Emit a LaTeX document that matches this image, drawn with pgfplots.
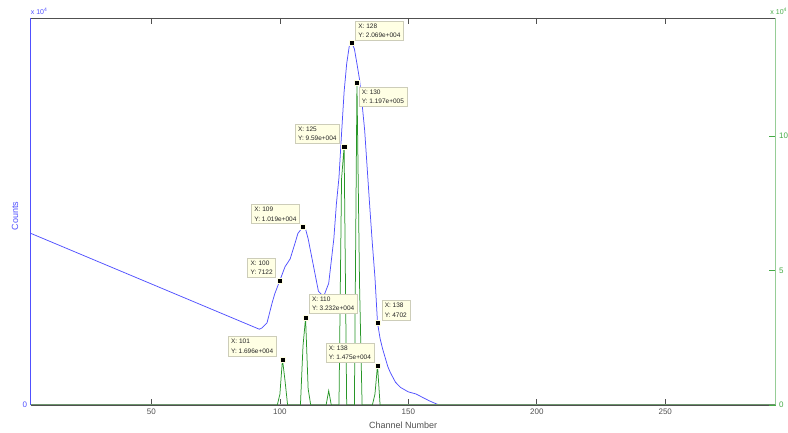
\documentclass[border=0pt]{standalone}
\usepackage{pgfplots}
\pgfplotsset{compat=1.18}
\usepackage{fontspec}
\setmainfont{Liberation Sans}
\setsansfont{Liberation Sans}
\definecolor{mblue}{RGB}{80,80,255}
\definecolor{mgreen}{RGB}{40,150,40}
\definecolor{rgreen}{RGB}{150,205,150}
\definecolor{tgreen}{RGB}{70,170,70}
\definecolor{tipfill}{RGB}{255,255,228}
\definecolor{tipdraw}{RGB}{205,205,185}
\definecolor{axgray}{RGB}{80,80,80}
\begin{document}
\begin{tikzpicture}[font=\fontsize{8}{9.6}\selectfont]
\pgfplotsset{
  common/.style={scale only axis, width=745pt, height=387pt, xmin=3, xmax=293, ymin=0,
    tick align=inside, major tick length=6pt, scaled ticks=false,
    /pgf/number format/assume math mode=true,
    ticklabel style={font=\fontsize{8}{9.6}\selectfont}}
}
\begin{axis}[common, ymax=22115,
  axis x line*=box, axis y line*=left,
  xtick={50,100,150,200,250},
  ytick={0}, y tick style={draw=none},
  x axis line style={axgray, line width=0.7pt, -},
  y axis line style={mblue, line width=0.8pt, -},
  xticklabel style={text=axgray},
  yticklabel style={text=mblue},
  x tick style={axgray, line width=0.6pt},
  xlabel={Channel Number},
  xlabel style={at={(axis description cs:0.5,0)}, anchor=base, yshift=-24pt, text=axgray, font=\fontsize{9}{10}\selectfont},
  ylabel={Counts},
  ylabel style={at={(axis description cs:-0.021,0.488)}, anchor=center, text=mblue, font=\fontsize{9}{10}\selectfont},
]
\addplot[mblue, line width=0.75pt] coordinates {
(3,9810)(92,4330)(93,4400)(95,4700)(97,5850)(98,6350)(100,7122)(102,7900)(104,8350)(106,9300)(107,9800)(109,10190)(110,10050)(111,9500)(113,8000)(115,6500)(117,6190)(119,6950)(121,9500)(122,11500)(123,13000)(124,15500)(125,17900)(126,19500)(127,20500)(128,20690)(129,20350)(130,19500)(131,18600)(132,17200)(133,15700)(134,13500)(135,11300)(136,9200)(137,7300)(138,4702)(139,3800)(140,3200)(142,2200)(143,1850)(145,1300)(147,1000)(150,750)(153,630)(156,400)(158,250)(160,120)(162,0)(293,0)
};
\draw[gray!85, line width=1.4pt] (rel axis cs:0,0) -- (rel axis cs:1,0);
\addplot[only marks, mark=square*, mark size=2.6pt, mark options={fill=black, draw=tipfill, line width=0.4pt}] coordinates {(100,7122)(109,10190)(128,20690)(138,4702)};
\coordinate (b100) at (axis cs:100,7122);
\coordinate (b109) at (axis cs:109,10190);
\coordinate (b128) at (axis cs:128,20690);
\coordinate (b138) at (axis cs:138,4702);
\end{axis}
\begin{axis}[common, ymax=143870,
  axis x line=none, axis y line*=right,
  ytick={0,50000,100000}, yticklabels={0,5,10},
  major tick length=7pt,
  y axis line style={rgreen, line width=1pt, -},
  y tick style={tgreen, line width=0.6pt},
  yticklabel style={text=tgreen},
]
\addplot[mgreen, line width=0.75pt] coordinates {
(3,0)(99,0)(100,4000)(101,16960)(102,9000)(103,0)(108,0)(109,22000)(110,32320)(111,6000)(112,0)(118,0)(119,5300)(120,0)(123,0)(124,84000)(125,95900)(126,0)(129,0)(130,119700)(131,45000)(132,0)(136,0)(137,4000)(138,14750)(139,0)(293,0)
};
\addplot[only marks, mark=square*, mark size=2.6pt, mark options={fill=black, draw=tipfill, line width=0.4pt}] coordinates {(101,16960)(110,32320)(125,95900)(130,119700)(138,14750)};
\coordinate (g101) at (axis cs:101,16960);
\coordinate (g110) at (axis cs:110,32320);
\coordinate (g125) at (axis cs:125,95900);
\coordinate (g130) at (axis cs:130,119700);
\coordinate (g138) at (axis cs:138,14750);
\end{axis}
\tikzset{tip/.style={fill=tipfill, draw=tipdraw, line width=0.5pt, inner xsep=3pt, inner ysep=2.6pt, align=left, font=\fontsize{6.5}{9.3}\selectfont, text=black!85}}
\node[tip, anchor=south west] at ([shift={(3.3pt,2.7pt)}]b128) {X: 128\\Y: 2.069e+004};
\node[tip, anchor=north west] at ([shift={(1.6pt,-3.7pt)}]g130) {X: 130\\Y: 1.197e+005};
\node[tip, anchor=south east] at ([shift={(-4.3pt,3.3pt)}]g125) {X: 125\\Y: 9.59e+004};
\node[tip, anchor=south east] at ([shift={(-3.3pt,2.7pt)}]b109) {X: 109\\Y: 1.019e+004};
\node[tip, anchor=south east] at ([shift={(-4pt,2.7pt)}]b100) {X: 100\\Y: 7122};
\node[tip, anchor=south west] at ([shift={(3.3pt,4.3pt)}]g110) {X: 110\\Y: 3.232e+004};
\node[tip, anchor=south west] at ([shift={(4pt,2.7pt)}]b138) {X: 138\\Y: 4702};
\node[tip, anchor=south east] at ([shift={(-6pt,3.3pt)}]g101) {X: 101\\Y: 1.696e+004};
\node[tip, anchor=south east] at ([shift={(-3.3pt,3pt)}]g138) {X: 138\\Y: 1.475e+004};
\node[anchor=base west, inner sep=0pt, text=mblue, font=\fontsize{7}{8}\selectfont] at (0pt,390pt) {x 10\textsuperscript{4}};
\node[anchor=base east, inner sep=0pt, text=tgreen, font=\fontsize{7}{8}\selectfont] at (756.5pt,390pt) {x 10\textsuperscript{4}};
\pgfresetboundingbox
\useasboundingbox (-30.7pt,-28pt) rectangle (757.3pt,405pt);
\end{tikzpicture}
\end{document}
